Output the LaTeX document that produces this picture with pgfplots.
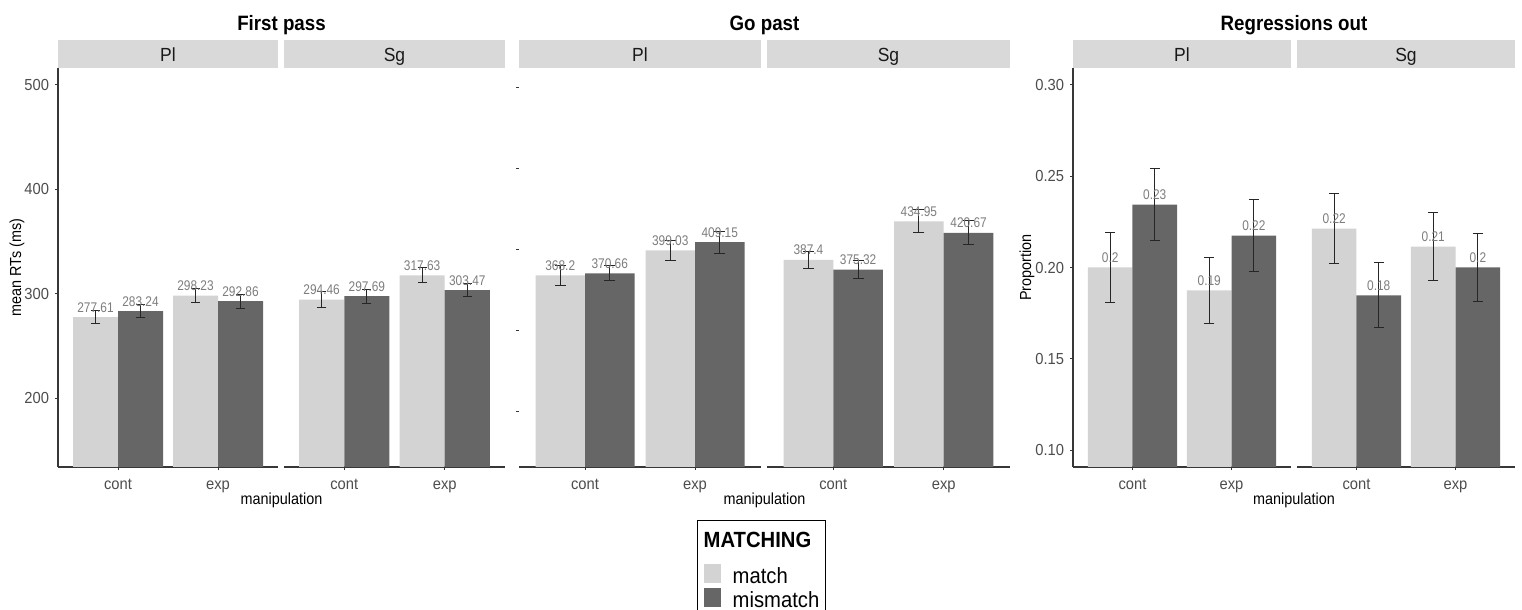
\documentclass[border=0pt]{standalone}
\usepackage{graphicx}
\usepackage{pgfplots}
\pgfplotsset{compat=1.18}
\usepackage{fontspec}
\setmainfont{Liberation Sans}
\definecolor{matchc}{RGB}{211,211,211}
\definecolor{mismc}{RGB}{102,102,102}
\definecolor{stripc}{RGB}{217,217,217}
\definecolor{tickc}{RGB}{77,77,77}
\definecolor{labc}{RGB}{125,125,125}
\definecolor{linec}{RGB}{55,55,55}
\newcommand{\tickfont}{\fontsize{8}{9}\selectfont}
\newcommand{\barfont}{\fontsize{7}{8}\selectfont}
\newcommand{\stripfont}{\fontsize{9.5}{10}\selectfont}
\newcommand{\titlefont}{\fontsize{10.4}{12}\selectfont\bfseries}
\newcommand{\labfont}{\fontsize{8}{9}\selectfont}
\newcommand{\legfont}{\fontsize{11}{12}\selectfont}
\pgfplotsset{
  facet/.style={
    scale only axis, height=199.5pt, anchor=south west,
    xmin=0.4, xmax=2.6, xtick={1,2}, xticklabels={cont,exp},
    axis x line=bottom, axis y line=left,
    axis line style={-, draw=linec, line width=0.6pt},
    tick align=outside, major tick length=1.6pt,
    tick style={draw=linec, line width=0.5pt},
    xticklabel style={font=\tickfont, text=tickc, anchor=base, inner sep=0pt, yshift=-9.5pt, xscale=0.92},
    yticklabel style={font=\tickfont, text=tickc, anchor=east, inner sep=0pt, xshift=-2.7pt, xscale=0.92},
    point meta=explicit symbolic,
    nodes near coords,
    every node near coord/.append style={font=\barfont, text=labc, inner sep=0pt, anchor=south, yshift=2.2pt, xscale=0.85},
  },
  noy/.style={ytick=\empty, y axis line style={draw=none}},
  bm/.style={ybar, bar width=0.45, bar shift=0pt, fill=matchc, draw=none, forget plot,
    /pgfplots/error bars/y dir=both, /pgfplots/error bars/y explicit,
    /pgfplots/error bars/error bar style={draw=black!85, line width=0.5pt},
    /pgfplots/error bars/error mark options={draw=black!85, rotate=90, line width=0.5pt, mark size=#1}},
  bmm/.style={bm=#1, fill=mismc},
}
\begin{document}
\begin{tikzpicture}
\useasboundingbox (0,0) rectangle (761pt,305pt);

% ---------------- First pass, Pl
\begin{axis}[facet, name=fpPl, at={(29pt,71.5pt)}, width=110pt, ymin=134, ymax=516.3,
  ytick={200,300,400,500}, yticklabels={200,300,400,500}]
\addplot[bm=2.3pt] table[x=x,y=y,y error=e,meta=l]{
x y e l
0.775 277.61 6.1 277.61
1.775 298.23 6.7 298.23
};
\addplot[bmm=2.3pt] table[x=x,y=y,y error=e,meta=l]{
x y e l
1.225 283.24 6.2 283.24
2.225 292.86 6.6 292.86
};
\end{axis}
% ---------------- First pass, Sg
\begin{axis}[facet, noy, name=fpSg, at={(142pt,71.5pt)}, width=110.5pt, ymin=134, ymax=516.3]
\addplot[bm=2.3pt] table[x=x,y=y,y error=e,meta=l]{
x y e l
0.775 294.46 7.3 294.46
1.775 317.63 7.2 317.63
};
\addplot[bmm=2.3pt] table[x=x,y=y,y error=e,meta=l]{
x y e l
1.225 297.69 6.7 297.69
2.225 303.47 6.5 303.47
};
\end{axis}
% ---------------- Go past, Pl
\begin{axis}[facet, name=gpPl, at={(259.5pt,71.5pt)}, width=121pt, ymin=132, ymax=624,
  ytick={200,300,400,500,600}, yticklabels={\mbox{},\mbox{},\mbox{},\mbox{},\mbox{}},
  y axis line style={draw=none},
  legend style={at={(0.7355,-0.1328)}, anchor=north west, draw=black, line width=0.7pt,
    fill=white, font=\legfont, inner xsep=3pt, inner ysep=2pt, row sep=0pt, column sep=6pt,
    cells={anchor=base west}, nodes={inner sep=0pt, text depth=}},
  legend image code/.code={\fill[#1, draw=none] (0pt,0pt) rectangle (8.5pt,9.5pt);}]
\addlegendimage{empty legend}
\addlegendentry{\hspace*{-14.5pt}\scalebox{0.92}[1]{\bfseries MATCHING}\rule[-8.6pt]{0pt}{19.9pt}}
\addlegendimage{fill=matchc}
\addlegendentry{\scalebox{0.92}[1]{match}\rule[-2.5pt]{0pt}{10pt}}
\addlegendimage{fill=mismc}
\addlegendentry{\scalebox{0.92}[1]{mismatch}\rule[-2.5pt]{0pt}{10pt}}
\addplot[bm=2.75pt] table[x=x,y=y,y error=e,meta=l]{
x y e l
0.775 368.2 12.7 368.2
1.775 399.03 12.7 399.03
};
\addplot[bmm=2.75pt] table[x=x,y=y,y error=e,meta=l]{
x y e l
1.225 370.66 9.2 370.66
2.225 409.15 13.3 409.15
};
\end{axis}
% ---------------- Go past, Sg
\begin{axis}[facet, noy, name=gpSg, at={(383.5pt,71.5pt)}, width=121.5pt, ymin=132, ymax=624]
\addplot[bm=2.75pt] table[x=x,y=y,y error=e,meta=l]{
x y e l
0.775 387.4 10.5 387.4
1.775 434.95 14.4 434.95
};
\addplot[bmm=2.75pt] table[x=x,y=y,y error=e,meta=l]{
x y e l
1.225 375.32 11.3 375.32
2.225 420.67 14.8 420.67
};
\end{axis}
% ---------------- Regressions out, Pl
\begin{axis}[facet, name=roPl, at={(536.5pt,71.5pt)}, width=109pt, ymin=0.0907, ymax=0.3093,
  ytick={0.10,0.15,0.20,0.25,0.30}, yticklabels={0.10,0.15,0.20,0.25,0.30}]
\addplot[bm=2.5pt] table[x=x,y=y,y error=e,meta=l]{
x y e l
0.775 0.2000 0.0190 0.2
1.775 0.1874 0.0180 0.19
};
\addplot[bmm=2.5pt] table[x=x,y=y,y error=e,meta=l]{
x y e l
1.225 0.2345 0.0198 0.23
2.225 0.2175 0.0195 0.22
};
\end{axis}
% ---------------- Regressions out, Sg
\begin{axis}[facet, noy, name=roSg, at={(648.5pt,71.5pt)}, width=109pt, ymin=0.0907, ymax=0.3093]
\addplot[bm=2.5pt] table[x=x,y=y,y error=e,meta=l]{
x y e l
0.775 0.2213 0.0190 0.22
1.775 0.2115 0.0187 0.21
};
\addplot[bmm=2.5pt] table[x=x,y=y,y error=e,meta=l]{
x y e l
1.225 0.1847 0.0178 0.18
2.225 0.2000 0.0188 0.2
};
\end{axis}

% strips
\foreach \n/\t in {fpPl/Pl,fpSg/Sg,gpPl/Pl,gpSg/Sg,roPl/Pl,roSg/Sg}{
  \fill[stripc] (\n.north west) rectangle ([yshift=14pt]\n.north east);
  \node[anchor=base, inner sep=0pt, font=\stripfont, text=black!90] at ([yshift=3.2pt]\n.north) {\scalebox{0.92}[1]{\t}};
}
% titles
\node[anchor=base, inner sep=0pt, font=\titlefont] at (140.75pt,289.5pt) {\scalebox{0.9}[1]{First pass}};
\node[anchor=base, inner sep=0pt, font=\titlefont] at (382.25pt,289.5pt) {\scalebox{0.9}[1]{Go past}};
\node[anchor=base, inner sep=0pt, font=\titlefont] at (647pt,289.5pt) {\scalebox{0.9}[1]{Regressions out}};
% axis titles
\node[anchor=base, inner sep=0pt, font=\labfont] at (140.75pt,52.8pt) {\scalebox{0.9}[1]{manipulation}};
\node[anchor=base, inner sep=0pt, font=\labfont] at (382.25pt,52.8pt) {\scalebox{0.9}[1]{manipulation}};
\node[anchor=base, inner sep=0pt, font=\labfont] at (647pt,52.8pt) {\scalebox{0.9}[1]{manipulation}};
\node[rotate=90, inner sep=0pt, font=\labfont] at (8.5pt,171.25pt) {\scalebox{0.9}[1]{mean RTs (ms)}};
\node[rotate=90, inner sep=0pt, font=\labfont] at (513.5pt,171.25pt) {\scalebox{0.9}[1]{Proportion}};
\end{tikzpicture}
\end{document}
